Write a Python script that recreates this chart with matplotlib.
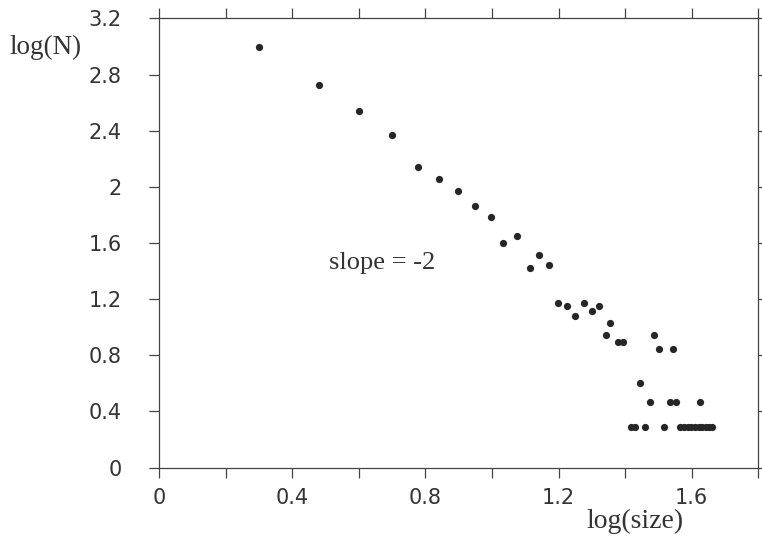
import matplotlib
matplotlib.use("Agg")
import matplotlib.pyplot as plt
from matplotlib.ticker import MultipleLocator, FuncFormatter

# log(size) / log(N) pairs of the cluster-size distribution
log_size = [0.299, 0.479, 0.600, 0.699, 0.779, 0.842, 0.899, 0.949, 0.998,
            1.033, 1.076, 1.113, 1.141, 1.170, 1.198, 1.226, 1.249, 1.278,
            1.300, 1.321, 1.344, 1.356, 1.378, 1.393,
            1.419, 1.429, 1.446, 1.459, 1.474, 1.486, 1.502, 1.516, 1.534,
            1.544, 1.552, 1.624,
            1.566, 1.577, 1.588, 1.599, 1.610, 1.621, 1.632, 1.642, 1.652, 1.662]
log_n = [2.998, 2.728, 2.540, 2.369, 2.143, 2.055, 1.969, 1.867, 1.782,
         1.599, 1.649, 1.423, 1.511, 1.442, 1.171, 1.152, 1.081, 1.171,
         1.114, 1.152, 0.946, 1.031, 0.896, 0.896,
         0.292, 0.292, 0.601, 0.292, 0.465, 0.948, 0.846, 0.292, 0.465,
         0.846, 0.465, 0.465,
         0.292, 0.292, 0.292, 0.292, 0.292, 0.292, 0.292, 0.292, 0.292, 0.292]

FIGSIZE = (7.62, 5.40)
AXCOLOR = '#444444'
TXTCOLOR = '#333333'
SERIF = ['Liberation Serif', 'DejaVu Serif']


def plot():
    fig = plt.figure(figsize=FIGSIZE, dpi=100)
    ax = fig.add_axes([0.209, 0.134, 0.786, 0.832])

    ax.plot(log_size, log_n, linestyle='none', marker='o', markersize=5.2,
            color='#262626', markeredgewidth=0)

    ax.set_xlim(0, 1.8)
    ax.set_ylim(0, 3.2)

    ax.xaxis.set_major_locator(MultipleLocator(0.4))
    ax.xaxis.set_minor_locator(MultipleLocator(0.2))
    ax.yaxis.set_major_locator(MultipleLocator(0.4))
    fmt = FuncFormatter(lambda v, p: f'{v:g}')
    ax.xaxis.set_major_formatter(fmt)
    ax.yaxis.set_major_formatter(fmt)

    for s in ax.spines.values():
        s.set_color(AXCOLOR)
        s.set_linewidth(0.9)

    ax.tick_params(which='both', direction='out', color=AXCOLOR, width=0.9,
                   top=True, right=True, length=7)
    ax.tick_params(axis='x', which='both', labelsize=15, labelcolor=TXTCOLOR, pad=8)
    ax.tick_params(axis='y', which='both', labelsize=15, labelcolor=TXTCOLOR, pad=20)
    for lab in ax.get_xticklabels() + ax.get_yticklabels():
        lab.set_family('DejaVu Sans')

    ax.text(0.511, 1.418, 'slope = -2', family=SERIF, fontsize=19,
            color=TXTCOLOR, va='baseline', ha='left')

    fig.text(10 / 762, 1 - 54 / 540, 'log(N)', family=SERIF, fontsize=19.5,
             color=TXTCOLOR, va='baseline', ha='left')
    fig.text(586 / 762, 1 - 528 / 540, 'log(size)', family=SERIF, fontsize=20,
             color=TXTCOLOR, va='baseline', ha='left')

    fig.savefig('out.png', dpi=100)
    fig.clf()


if __name__ == "__main__":
    plot()
